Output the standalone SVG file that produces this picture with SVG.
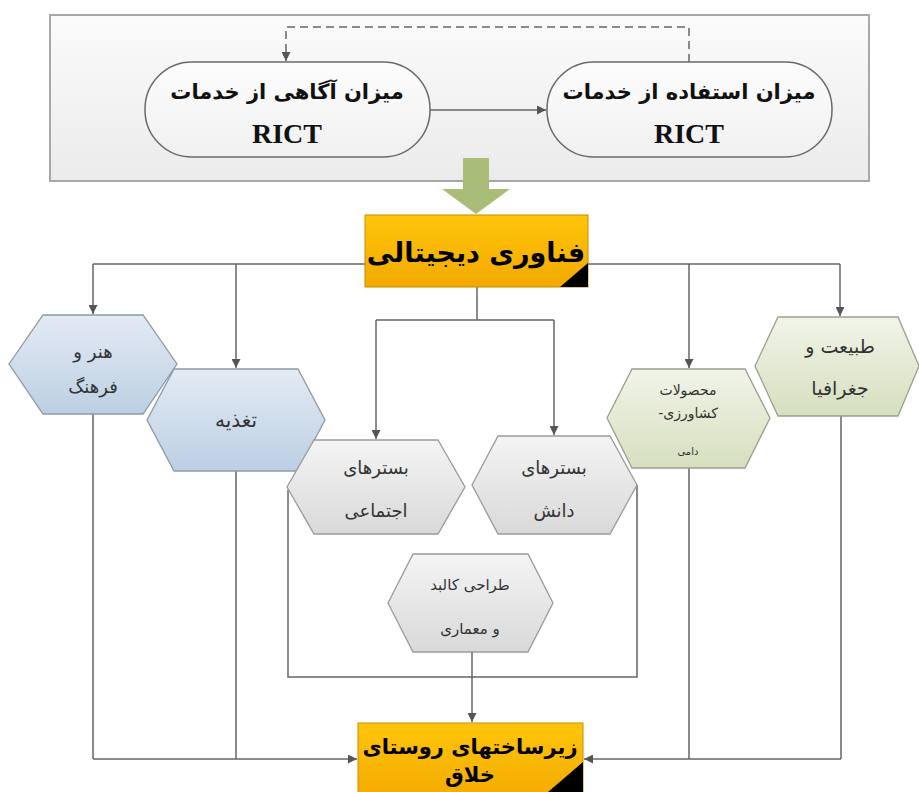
<svg xmlns="http://www.w3.org/2000/svg" width="919" height="792" viewBox="0 0 919 792">
<defs>
<linearGradient id="gTop" x1="0" y1="0" x2="0" y2="1"><stop offset="0" stop-color="#fbfbfb"/><stop offset="1" stop-color="#ebebeb"/></linearGradient>
<linearGradient id="gPill" x1="0" y1="0" x2="0" y2="1"><stop offset="0" stop-color="#fdfdfd"/><stop offset="1" stop-color="#f0f0f0"/></linearGradient>
<linearGradient id="gYel" x1="0" y1="0" x2="0" y2="1"><stop offset="0" stop-color="#ffc50a"/><stop offset="1" stop-color="#f3a900"/></linearGradient>
<linearGradient id="gBlue" x1="0" y1="0" x2="0" y2="1"><stop offset="0" stop-color="#e3ebf4"/><stop offset="1" stop-color="#bccfe3"/></linearGradient>
<linearGradient id="gGreen" x1="0" y1="0" x2="0" y2="1"><stop offset="0" stop-color="#f1f4e8"/><stop offset="1" stop-color="#d6dfbf"/></linearGradient>
<linearGradient id="gGrey" x1="0" y1="0" x2="0" y2="1"><stop offset="0" stop-color="#f4f4f4"/><stop offset="1" stop-color="#d9d9d9"/></linearGradient>
<marker id="arr" viewBox="0 0 10 10" refX="10" refY="5" markerWidth="9" markerHeight="9" markerUnits="userSpaceOnUse" orient="auto"><path d="M0,0 L10,5 L0,10 z" fill="#555"/></marker>
</defs>
<style>
.conn{fill:none;stroke:#666;stroke-width:1.5}
.dash{fill:none;stroke:#666;stroke-width:1.5;stroke-dasharray:8,5}
.hexb{fill:url(#gBlue);stroke:#8e9aa8;stroke-width:1.3}
.hexg{fill:url(#gGreen);stroke:#9aa08a;stroke-width:1.3}
.hexy{fill:url(#gGrey);stroke:#9a9a9a;stroke-width:1.3}
.ht{font-family:"DejaVu Sans",sans-serif;font-size:18px;fill:#333;text-anchor:middle}
.pt{font-family:"DejaVu Sans","Liberation Serif",serif;font-size:21px;font-weight:bold;fill:#111;text-anchor:middle}
.rt{font-family:"Liberation Serif",serif;font-size:28px;font-weight:bold;fill:#111;text-anchor:middle}
.yt{font-family:"DejaVu Sans",sans-serif;font-size:27px;font-weight:bold;fill:#000;text-anchor:middle}
</style>
<rect width="919" height="792" fill="#ffffff"/>

<g id="frame">
<rect x="50" y="15" width="819" height="166" fill="url(#gTop)" stroke="#a8a8a8" stroke-width="2"/>
</g>

<g id="connectors">
<path class="dash" d="M689,62 V27 H286 V61" marker-end="url(#arr)"/>
<path class="conn" d="M430,110 H546" marker-end="url(#arr)"/>
<path class="conn" d="M93,264 H840"/>
<path class="conn" d="M93,264 V314" marker-end="url(#arr)"/>
<path class="conn" d="M236,264 V368" marker-end="url(#arr)"/>
<path class="conn" d="M689,264 V368" marker-end="url(#arr)"/>
<path class="conn" d="M840,264 V316" marker-end="url(#arr)"/>
<path class="conn" d="M477,287 V320 M376,320 H554"/>
<path class="conn" d="M376,320 V439" marker-end="url(#arr)"/>
<path class="conn" d="M554,320 V435" marker-end="url(#arr)"/>
<path class="conn" d="M93,414 V759 M236,471 V759"/>
<path class="conn" d="M93,759 H357" marker-end="url(#arr)"/>
<path class="conn" d="M689,468 V759 M841,416 V759"/>
<path class="conn" d="M841,759 H584" marker-end="url(#arr)"/>
<path class="conn" d="M288,490 V677 H637 V485"/>
<path class="conn" d="M472,652 V722" marker-end="url(#arr)"/>
</g>

<g id="awareness">
<rect x="145" y="62" width="285" height="95" rx="47" ry="47" fill="url(#gPill)" stroke="#6a6a6a" stroke-width="1.5"/>
<text class="pt" x="287" y="99" direction="rtl">میزان آگاهی از خدمات</text>
<text class="rt" x="287" y="143">RICT</text>
</g>

<g id="usage">
<rect x="547" y="62" width="285" height="95" rx="47" ry="47" fill="url(#gPill)" stroke="#6a6a6a" stroke-width="1.5"/>
<text class="pt" x="689" y="99" direction="rtl">میزان استفاده از خدمات</text>
<text class="rt" x="689" y="143">RICT</text>
</g>

<g id="bigarrow">
<path d="M463,158 H489 V189 H510 L476,214 L442,189 H463 Z" fill="#a9bd78"/>
</g>

<g id="digital">
<rect x="365" y="215" width="223" height="72" fill="url(#gYel)" stroke="#c98a00" stroke-width="1"/>
<path d="M588,263 V287 H560 Z" fill="#000"/>
<text class="yt" x="476" y="262" direction="rtl">فناوری دیجیتالی</text>
</g>

<g id="art">
<polygon class="hexb" points="9,364 43,315 143,315 177,364 143,414 43,414"/>
<text class="ht" x="93" y="358" direction="rtl">هنر و</text>
<text class="ht" x="93" y="393" direction="rtl">فرهنگ</text>
</g>

<g id="food">
<polygon class="hexb" points="147,420 174,369 298,369 325,420 298,471 174,471"/>
<text class="ht" x="236" y="427" direction="rtl" style="font-size:20px">تغذیه</text>
</g>

<g id="social">
<polygon class="hexy" points="287,487 314,440 438,440 465,487 438,534 314,534"/>
<text class="ht" x="376" y="474" direction="rtl">بسترهای</text>
<text class="ht" x="376" y="517" direction="rtl">اجتماعی</text>
</g>

<g id="knowledge">
<polygon class="hexy" points="472,485 498,436 610,436 637,485 610,534 498,534"/>
<text class="ht" x="554" y="474" direction="rtl">بسترهای</text>
<text class="ht" x="554" y="517" direction="rtl">دانش</text>
</g>

<g id="design">
<polygon class="hexy" points="388,603 413,554 528,554 553,603 528,652 413,652"/>
<text class="ht" x="470" y="590" direction="rtl" style="font-size:15px">طراحی کالبد</text>
<text class="ht" x="470" y="634" direction="rtl" style="font-size:15px">و معماری</text>
</g>

<g id="agri">
<polygon class="hexg" points="607,418 632,369 745,369 770,418 745,468 632,468"/>
<text class="ht" x="688" y="395" direction="rtl" style="font-size:14px">محصولات</text>
<text class="ht" x="688" y="418" direction="rtl" style="font-size:14px">کشاورزی-</text>
<text class="ht" x="688" y="455" direction="rtl" style="font-size:10px">دامی</text>
</g>

<g id="nature">
<polygon class="hexg" points="755,366 778,317 898,317 919,366 898,416 778,416"/>
<text class="ht" x="840" y="353" direction="rtl" style="font-size:19px">طبیعت و</text>
<text class="ht" x="840" y="395" direction="rtl" style="font-size:19px">جغرافیا</text>
</g>

<g id="infra">
<rect x="358" y="723" width="225" height="80" fill="url(#gYel)" stroke="#c98a00" stroke-width="1"/>
<path d="M583,762 V792 H548 Z" fill="#000"/>
<text class="yt" x="470" y="754" direction="rtl" style="font-size:21px">زیرساختهای روستای</text>
<text class="yt" x="470" y="782" direction="rtl" style="font-size:21px">خلاق</text>
</g>
</svg>
